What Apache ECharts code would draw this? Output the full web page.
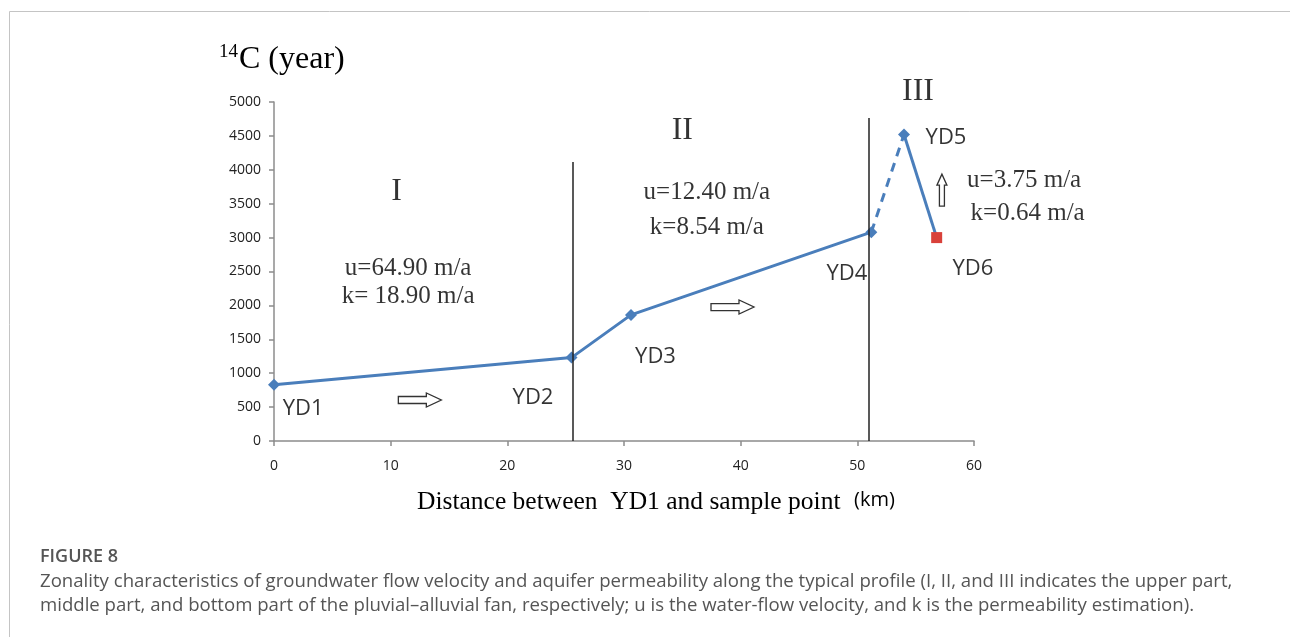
<!DOCTYPE html>
<html>
<head>
<meta charset="utf-8">
<script src="https://cdn.jsdelivr.net/npm/echarts@6/dist/echarts.min.js"></script>
<style>
html,body{margin:0;padding:0;background:#fff;}
#chart{width:1290px;height:637px;}
</style>
</head>
<body>
<div id="chart"></div>
<script>
// ---- data ----
var sampleNames = ['YD1', 'YD2', 'YD3', 'YD4', 'YD5', 'YD6'];
var distanceKm = [0, 25.5, 30.6, 51.2, 54.0, 56.8];
var ageYears = [830, 1230, 1860, 3080, 4520, 3000];
var xTicks = [0, 10, 20, 30, 40, 50, 60];
var yTicks = [0, 500, 1000, 1500, 2000, 2500, 3000, 3500, 4000, 4500, 5000];
var zoneBoundaries = [[25.6, 4115], [51.0, 4765]];   // x, top of line
// label anchors in data space: [x, y, text]
var sampleLabels = [[2.5, 472, 'YD1'], [22.2, 634, 'YD2'], [32.7, 1239, 'YD3'], [49.1, 2463, 'YD4'], [57.6, 4469, 'YD5'], [59.9, 2537, 'YD6']];
var zoneLabels = [[10.5, 3673, 'I'], [35.0, 4572, 'II'], [55.2, 5147, 'III']];
var velocityLabels = [[11.5, 2552, 'u=64.90 m/a'], [11.5, 2139, 'k= 18.90 m/a'], [37.1, 3673, 'u=12.40 m/a'], [37.1, 3156, 'k=8.54 m/a'], [64.3, 3850, 'u=3.75 m/a'], [64.6, 3363, 'k=0.64 m/a']];
var flowArrows = [[12.5, 605, 0], [39.3, 1976, 0], [57.25, 3700, 1]]; // 0 right, 1 up

var BLUE = '#4a7ebb';
var chart = echarts.init(document.getElementById('chart'));

function pts(a, b) { var r = []; for (var i = a; i <= b; i++) r.push([distanceKm[i], ageYears[i]]); return r; }

var solid1 = pts(0, 3);
var dashed = pts(3, 4);
var solid2 = pts(4, 5).map(function (p, i) {
  if (i === 1) return { value: p, symbol: 'rect', symbolSize: 11, itemStyle: { color: '#d9413a' } };
  return { value: p, symbol: 'diamond', symbolSize: 12 };
});

function textSeries(arr, font, size, color) {
  return {
    type: 'scatter', symbolSize: 0, clip: false, silent: true, z: 5,
    data: arr.map(function (d) { return { value: [d[0], d[1]], name: d[2] }; }),
    label: { show: true, position: 'inside', formatter: '{b}', fontFamily: font, fontSize: size, color: color }
  };
}

var option = {
  animation: false,
  backgroundColor: '#fff',
  grid: { left: 274, right: 316, top: 102, bottom: 196 },
  xAxis: {
    type: 'value', min: 0, max: 60, interval: 10,
    axisLine: { lineStyle: { color: '#8c8c8c', width: 1.5 } },
    axisTick: { show: true, length: 5, lineStyle: { color: '#8c8c8c', width: 1.5 } },
    splitLine: { show: false },
    axisLabel: { margin: 18, fontFamily: 'Open Sans', fontSize: 14, color: '#222',
      formatter: function (v) { return xTicks.indexOf(v) >= 0 ? String(v) : ''; } }
  },
  yAxis: {
    type: 'value', min: 0, max: 5000, interval: 500,
    axisLine: { show: true, lineStyle: { color: '#8c8c8c', width: 1.5 } },
    axisTick: { show: true, length: 5, lineStyle: { color: '#8c8c8c', width: 1.5 } },
    splitLine: { show: false },
    axisLabel: { margin: 13, fontFamily: 'Open Sans', fontSize: 14, color: '#222',
      formatter: function (v) { return yTicks.indexOf(v) >= 0 ? String(v) : ''; } }
  },
  series: [
    {
      type: 'line', data: solid1, symbol: 'diamond', symbolSize: 12,
      lineStyle: { color: BLUE, width: 3 }, itemStyle: { color: BLUE }, z: 3,
      markLine: {
        silent: true, symbol: 'none', label: { show: false },
        lineStyle: { color: '#222', width: 1.5, type: 'solid' },
        data: zoneBoundaries.map(function (b) { return [{ coord: [b[0], 0] }, { coord: [b[0], b[1]] }]; })
      }
    },
    {
      type: 'line', data: dashed, symbol: 'none',
      lineStyle: { color: BLUE, width: 3, type: [9, 7] }, z: 3
    },
    {
      type: 'line', data: solid2, lineStyle: { color: BLUE, width: 3 }, itemStyle: { color: BLUE }, z: 3
    },
    textSeries(sampleLabels, 'Open Sans', 22, '#000'),
    textSeries(zoneLabels, 'Liberation Serif', 32, '#000'),
    textSeries(velocityLabels, 'Liberation Serif', 25, '#000'),
    {
      type: 'custom', clip: false, silent: true, z: 4,
      data: flowArrows,
      renderItem: function (params, api) {
        var c = api.coord([api.value(0), api.value(1)]);
        var up = api.value(2) === 1;
        var L = up ? 32 : 43, hl = up ? 11 : 15, sh = up ? 2.5 : 3.5, hh = up ? 5 : 7;
        var local = [[-L / 2, -sh], [L / 2 - hl, -sh], [L / 2 - hl, -hh], [L / 2, 0], [L / 2 - hl, hh], [L / 2 - hl, sh], [-L / 2, sh]];
        var points = local.map(function (p) {
          return up ? [c[0] + p[1], c[1] - p[0]] : [c[0] + p[0], c[1] + p[1]];
        });
        return { type: 'polygon', shape: { points: points }, style: { fill: '#fff', stroke: '#333', lineWidth: 1.3 } };
      }
    }
  ],
  graphic: [
    { type: 'line', shape: { x1: 9.5, y1: 11.5, x2: 1290, y2: 11.5 }, style: { stroke: '#c4c4c4', lineWidth: 1 } },
    { type: 'line', shape: { x1: 9.5, y1: 11.5, x2: 9.5, y2: 637 }, style: { stroke: '#c4c4c4', lineWidth: 1 } },
    { type: 'text', left: 219, top: 43, style: { text: '14', fontFamily: 'Liberation Serif', fontSize: 19, fill: '#000' } },
    { type: 'text', left: 239, top: 44, style: { text: 'C (year)', fontFamily: 'Liberation Serif', fontSize: 32, fill: '#000' } },
    { type: 'text', left: 417, top: 489, style: { text: 'Distance between  YD1 and sample point', fontFamily: 'Liberation Serif', fontSize: 25.5, fill: '#000' } },
    { type: 'text', left: 854, top: 490, style: { text: '(km)', fontFamily: 'Open Sans', fontSize: 20, fill: '#000' } },
    { type: 'text', left: 40, top: 548, style: { text: 'FIGURE 8', fontFamily: 'Open Sans', fontSize: 18, fontWeight: 600, fill: '#555' } },
    { type: 'text', left: 40, top: 572, style: { text: 'Zonality characteristics of groundwater flow velocity and aquifer permeability along the typical profile (I, II, and III indicates the upper part,', fontFamily: 'Open Sans', fontSize: 18.6, fill: '#555' } },
    { type: 'text', left: 40, top: 596, style: { text: 'middle part, and bottom part of the pluvial\u2013alluvial fan, respectively; u is the water-flow velocity, and k is the permeability estimation).', fontFamily: 'Open Sans', fontSize: 18.6, fill: '#555' } }
  ]
};
chart.setOption(option);
</script>
</body>
</html>
